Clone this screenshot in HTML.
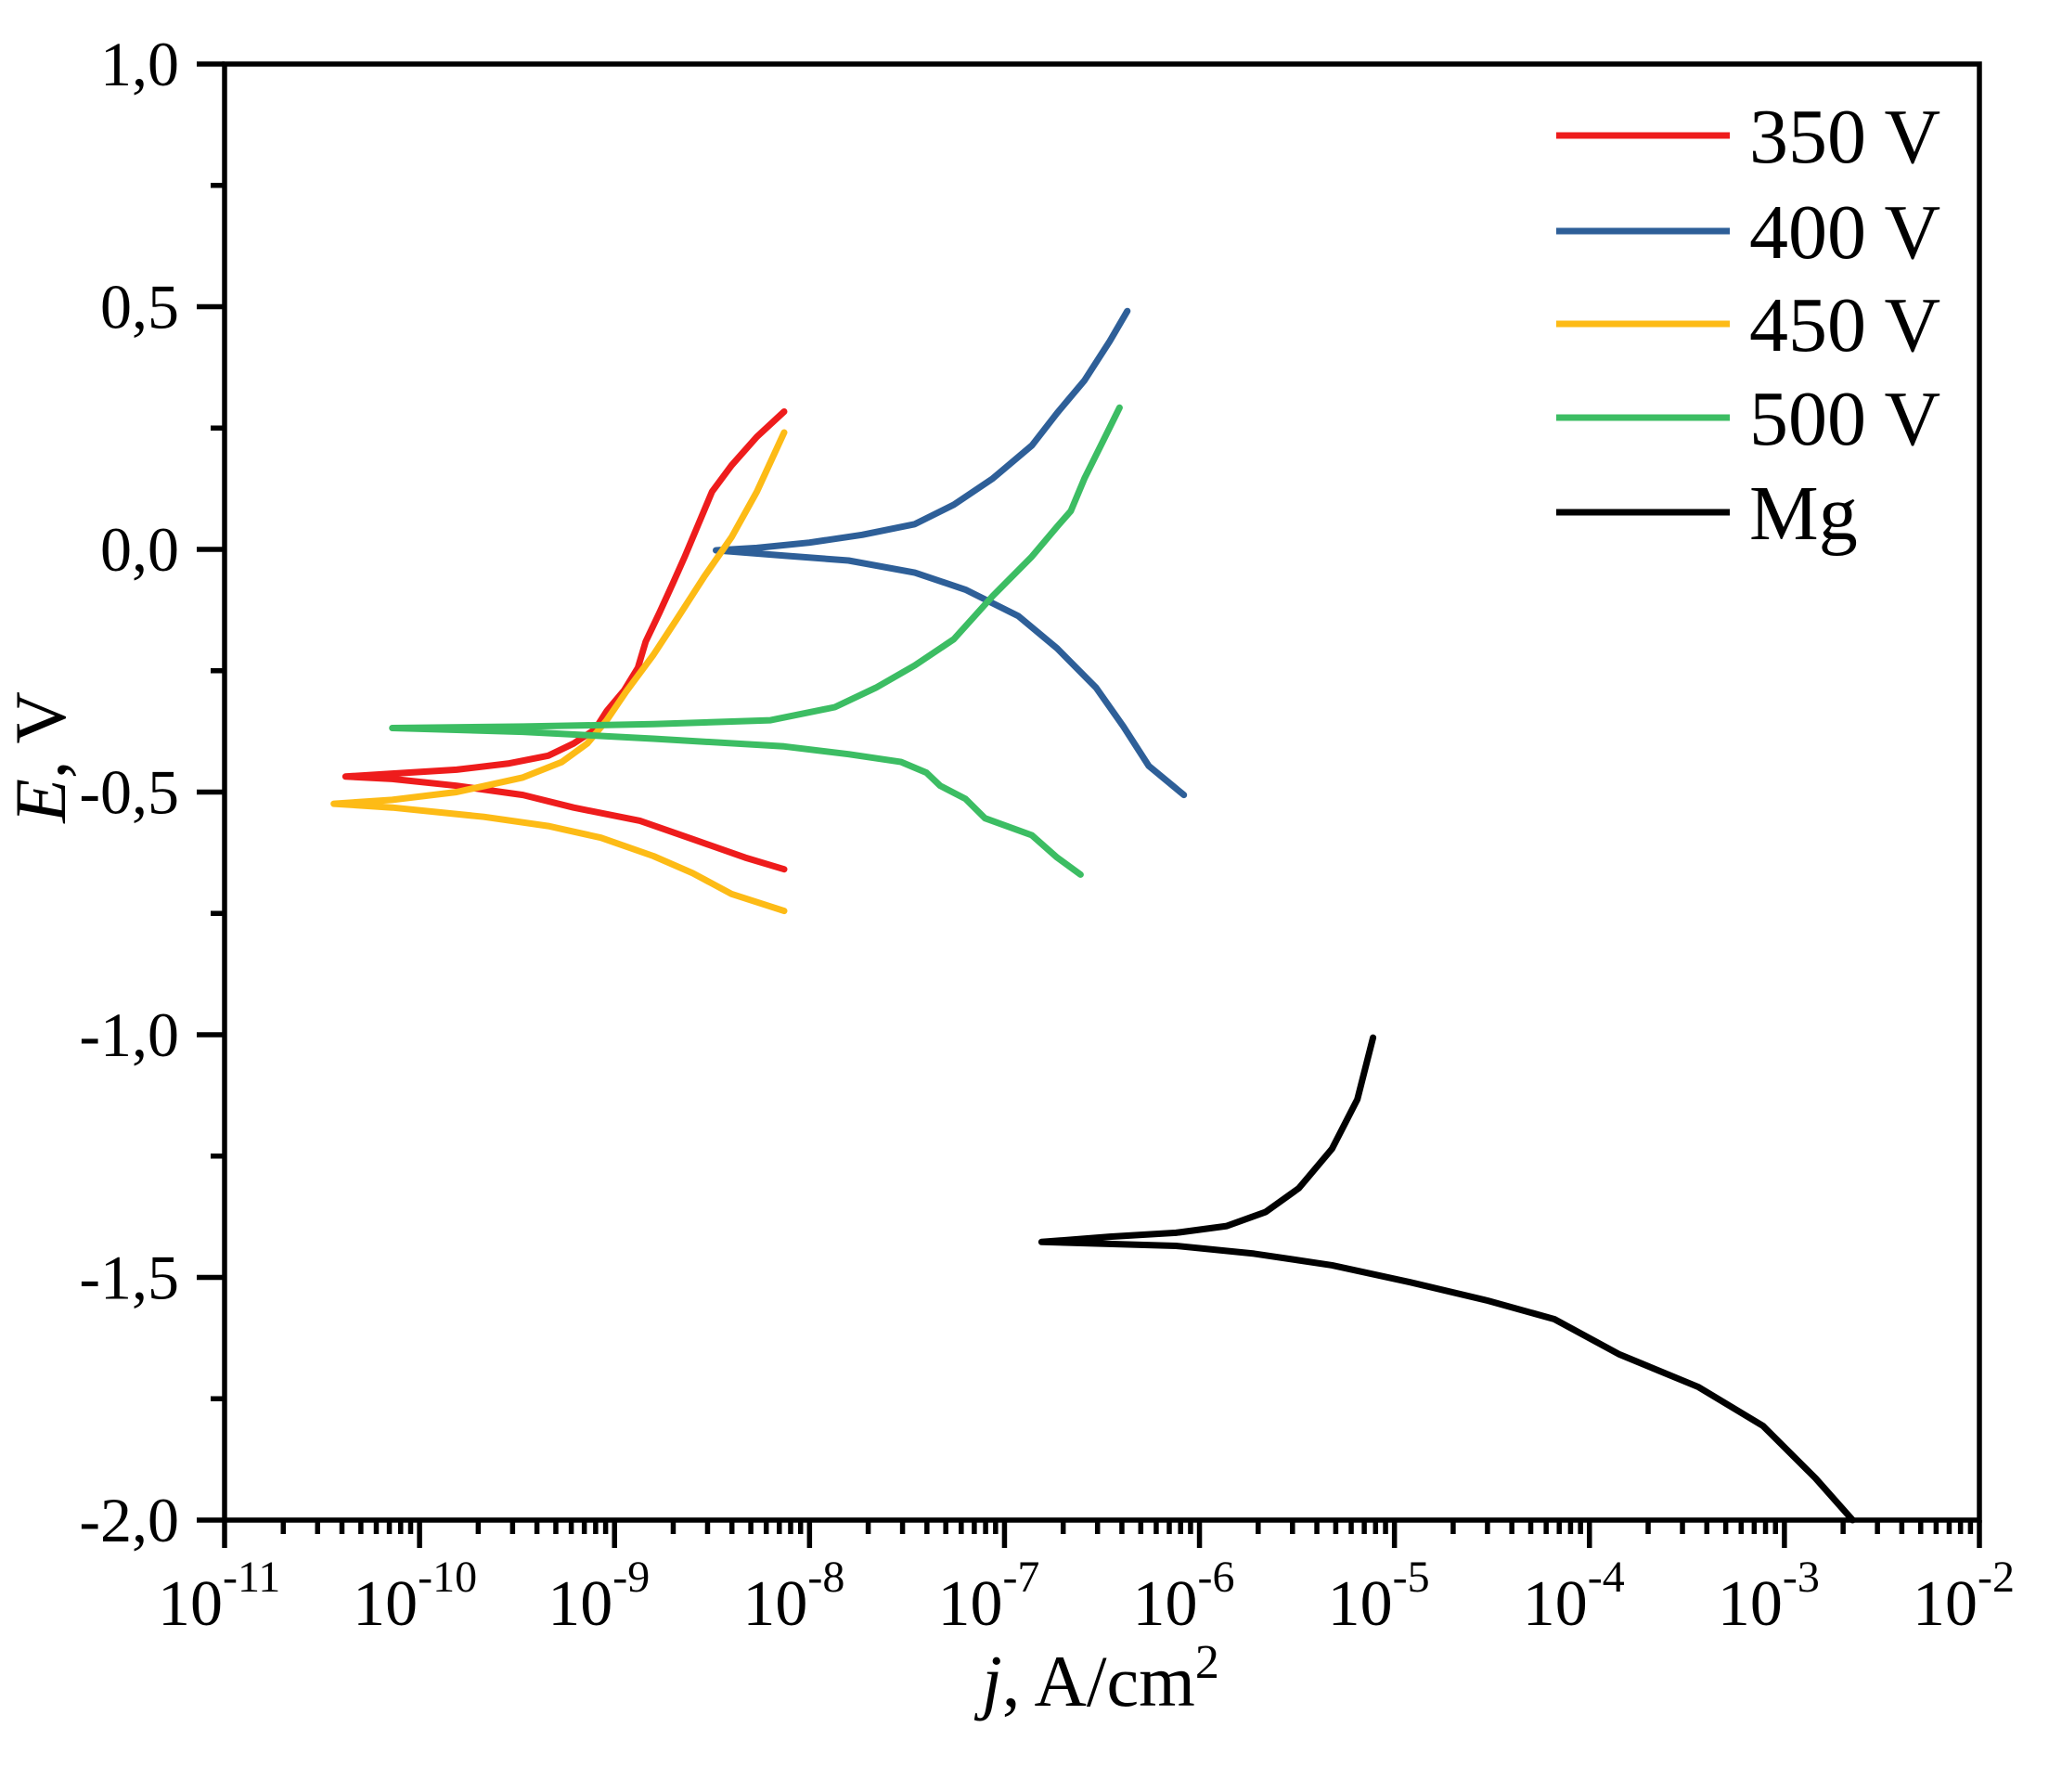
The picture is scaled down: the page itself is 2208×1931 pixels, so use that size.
<!DOCTYPE html>
<html><head><meta charset="utf-8"><style>
html,body{margin:0;padding:0;background:#fff;}
svg{display:block;font-family:"Liberation Serif",serif;}
</style></head><body>
<svg id="chart" width="2208" height="1931" viewBox="0 0 2208 1931" xmlns="http://www.w3.org/2000/svg">
<g id="marks"></g>
<g id="axes"></g>
<text x="1186" y="1838" font-size="78" text-anchor="middle"><tspan font-style="italic">j</tspan>, A/cm<tspan font-size="52" dy="-30">2</tspan></text>
<text transform="translate(70,816) rotate(-90)" font-size="78" text-anchor="middle"><tspan font-style="italic">E</tspan>, V</text>
<g id="legend"></g>
</svg>
<script>
// log10(j) and E values per series
const seriesNames = ["350 V","400 V","450 V","500 V","Mg"];
const seriesColors = ["#ee1c1c","#2e5f98","#fdbb16","#3cbd63","#000000"];
const red_logj = [-8.13,-8.27,-8.40,-8.50,-8.57,-8.64,-8.70,-8.77,-8.84,-8.88,-8.95,-9.04,-9.10,-9.21,-9.34,-9.54,-9.81,-10.14,-10.38,-10.14,-9.81,-9.47,-9.21,-8.87,-8.60,-8.33,-8.13];
const red_E = [0.284,0.232,0.173,0.119,0.052,-0.015,-0.069,-0.131,-0.190,-0.244,-0.290,-0.333,-0.371,-0.400,-0.425,-0.441,-0.454,-0.462,-0.468,-0.473,-0.487,-0.506,-0.532,-0.559,-0.597,-0.635,-0.659];
const blue_logj = [-6.37,-6.46,-6.59,-6.73,-6.86,-7.06,-7.26,-7.46,-7.73,-8.00,-8.27,-8.48,-8.13,-7.80,-7.46,-7.20,-6.93,-6.73,-6.53,-6.39,-6.26,-6.08];
const blue_E = [0.491,0.429,0.348,0.281,0.214,0.146,0.092,0.052,0.030,0.014,0.003,-0.002,-0.013,-0.023,-0.048,-0.083,-0.137,-0.204,-0.285,-0.365,-0.446,-0.506];
const yellow_logj = [-8.13,-8.27,-8.40,-8.54,-8.67,-8.80,-8.94,-9.04,-9.14,-9.27,-9.47,-9.81,-10.14,-10.44,-10.14,-9.67,-9.34,-9.07,-8.80,-8.60,-8.40,-8.13];
const yellow_E = [0.241,0.119,0.025,-0.056,-0.137,-0.217,-0.293,-0.352,-0.400,-0.438,-0.470,-0.500,-0.516,-0.524,-0.532,-0.551,-0.570,-0.594,-0.632,-0.667,-0.710,-0.745];
const green_logj = [-6.41,-6.49,-6.59,-6.66,-6.73,-6.86,-7.06,-7.26,-7.46,-7.66,-7.87,-8.20,-8.80,-9.47,-10.14,-9.47,-8.80,-8.13,-7.80,-7.53,-7.40,-7.33,-7.20,-7.10,-6.86,-6.73,-6.61];
const green_E = [0.292,0.227,0.146,0.079,0.047,-0.015,-0.096,-0.185,-0.239,-0.285,-0.325,-0.352,-0.360,-0.365,-0.368,-0.376,-0.390,-0.406,-0.422,-0.438,-0.460,-0.487,-0.514,-0.554,-0.589,-0.635,-0.670];
const mg_logj = [-5.11,-5.19,-5.32,-5.49,-5.66,-5.86,-6.12,-6.46,-6.81,-6.12,-5.72,-5.32,-4.92,-4.52,-4.18,-3.85,-3.44,-3.11,-2.84,-2.65];
const mg_E = [-1.006,-1.133,-1.235,-1.316,-1.365,-1.394,-1.408,-1.416,-1.427,-1.435,-1.451,-1.475,-1.510,-1.548,-1.586,-1.658,-1.726,-1.806,-1.914,-2.0];
const xDecades = [-11,-10,-9,-8,-7,-6,-5,-4,-3,-2];
const yTicks = [1.0,0.5,0.0,-0.5,-1.0,-1.5,-2.0];
const yTickLabels = ["1,0","0,5","0,0","-0,5","-1,0","-1,5","-2,0"];

const X0=242,X1=2133,Y0=69,Y1=1638;
const xs = v => X0 + (v - (-11)) / 9 * (X1 - X0);
const ys = v => Y0 + (1 - v) / 3 * (Y1 - Y0);
const NS="http://www.w3.org/2000/svg";
const marks=document.getElementById('marks'), axes=document.getElementById('axes'), legend=document.getElementById('legend');
function mk(tag, attrs, parent){const e=document.createElementNS(NS,tag);for(const k in attrs)e.setAttribute(k,attrs[k]);parent.appendChild(e);return e;}

const allX=[red_logj,blue_logj,yellow_logj,green_logj,mg_logj], allY=[red_E,blue_E,yellow_E,green_E,mg_E];
const keys=["series-350v","series-400v","series-450v","series-500v","series-mg"];
for(let s=0;s<5;s++){
  const d=allX[s].map((v,i)=>(i?'L':'M')+xs(v).toFixed(1)+','+ys(allY[s][i]).toFixed(1)).join(' ');
  const p=mk('path',{d:d,fill:'none',stroke:seriesColors[s],'stroke-width':7,'stroke-linejoin':'round','stroke-linecap':'round'},marks);
  
  
}
const fr=mk('rect',{x:X0,y:Y0,width:X1-X0,height:Y1-Y0,fill:'none',stroke:'#000','stroke-width':5.5},axes);


for(let i=0;i<yTicks.length;i++){
  const y=ys(yTicks[i]);
  const t=mk('line',{x1:X0-30,x2:X0,y1:y,y2:y,stroke:'#000','stroke-width':5.5},axes);
  
  
  const l=mk('text',{x:X0-49,y:y+23,'font-size':68,'text-anchor':'end'},axes);
  l.textContent=yTickLabels[i];
  
  
  if(i<yTicks.length-1){
    const ym=ys(yTicks[i]-0.25);
    const m=mk('line',{x1:X0-15,x2:X0,y1:ym,y2:ym,stroke:'#000','stroke-width':5.5},axes);
    
    
  }
}
for(let i=0;i<xDecades.length;i++){
  const x=xs(xDecades[i]);
  const t=mk('line',{x1:x,x2:x,y1:Y1,y2:Y1+30,stroke:'#000','stroke-width':5.5},axes);
  
  
  const l=mk('text',{x:x-2,y:1751,'font-size':70,'text-anchor':'end'},axes);
  l.textContent='10';
  
  
  const sp=mk('text',{x:x-2,y:1715,'font-size':48,'text-anchor':'start'},axes);
  sp.textContent=String(xDecades[i]);
  
  
  if(i<xDecades.length-1){
    for(let k=2;k<=9;k++){
      const xm=xs(xDecades[i]+Math.log10(k));
      const m=mk('line',{x1:xm,x2:xm,y1:Y1,y2:Y1+15,stroke:'#000','stroke-width':5.5},axes);
      
      
    }
  }
}
const legY=[146,249,349,450,552];
for(let s=0;s<5;s++){
  const g=mk('g',{},legend);
  
  
  mk('line',{x1:1677,x2:1864,y1:legY[s],y2:legY[s],stroke:seriesColors[s],'stroke-width':7},g);
  const t=mk('text',{x:1885,y:legY[s]+29,'font-size':84},g);
  t.textContent=seriesNames[s];
}
</script>
</body></html>
